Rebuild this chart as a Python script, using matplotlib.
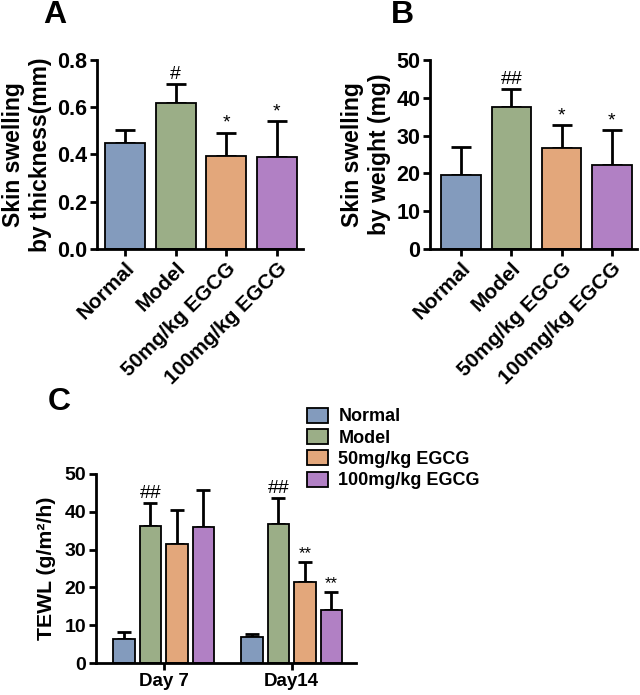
import matplotlib
matplotlib.use("Agg")
import matplotlib.pyplot as plt
import numpy as np
from matplotlib.patches import Patch

plt.rcParams['font.family'] = ['Liberation Sans', 'DejaVu Sans']
plt.rcParams['font.weight'] = 'bold'
plt.rcParams['axes.linewidth'] = 2

# ---- data ----
groups = ['Normal', 'Model', '50mg/kg EGCG', '100mg/kg EGCG']
colors = ['#839BBD', '#9BAE87', '#E3A77B', '#B180C4']

thick_mean = [0.45, 0.62, 0.393, 0.39]
thick_err = [0.055, 0.08, 0.10, 0.15]
thick_sig = ['', '#', '*', '*']

weight_mean = [19.6, 37.6, 26.8, 22.1]
weight_err = [7.4, 4.7, 5.9, 9.4]
weight_sig = ['', '##', '*', '*']

days = ['Day 7', 'Day14']
tewl_mean = {
    'Normal': [6.4, 6.8],
    'Model': [36.2, 36.8],
    '50mg/kg EGCG': [31.6, 21.5],
    '100mg/kg EGCG': [36.1, 14.0],
}
tewl_err = {
    'Normal': [1.9, 0.8],
    'Model': [6.1, 6.9],
    '50mg/kg EGCG': [8.9, 5.2],
    '100mg/kg EGCG': [9.7, 4.7],
}
tewl_sig = {
    'Normal': ['', ''],
    'Model': ['##', '##'],
    '50mg/kg EGCG': ['', '**'],
    '100mg/kg EGCG': ['', '**'],
}

fig = plt.figure(figsize=(6.4, 6.95), dpi=100)


def style_axes(ax, ysize):
    ax.spines['top'].set_visible(False)
    ax.spines['right'].set_visible(False)
    ax.tick_params(width=2, length=5, pad=2)
    ax.tick_params(axis='y', labelsize=ysize)
    for lab in ax.get_yticklabels():
        lab.set_fontweight('bold')


def bar_panel(ax, means, errs, sigs, ylim, yticks, ylabel, fmt):
    x = np.arange(len(groups))
    ax.bar(x, means, width=0.79, color=colors, edgecolor='black', linewidth=1.3, zorder=2)
    ax.errorbar(x, means, yerr=[np.zeros(len(errs)), errs], fmt='none', ecolor='black',
                elinewidth=2, capsize=7, capthick=2, zorder=1)
    for xi, m, e, s in zip(x, means, errs, sigs):
        if s:
            ax.text(xi, m + e + ylim[1] * 0.005, s, ha='center', va='bottom',
                    fontsize=14, fontweight='normal')
    ax.set_ylim(*ylim)
    ax.set_yticks(yticks)
    ax.set_yticklabels([fmt.format(v) for v in yticks])
    ax.set_xticks(x)
    ax.set_xticklabels(groups, rotation=45, ha='right', rotation_mode='anchor',
                       fontsize=15, fontweight='bold')
    ax.set_ylabel(ylabel, fontsize=16.5, fontweight='bold', labelpad=4)
    style_axes(ax, 15.5)


axA = fig.add_axes([0.1516, 0.6417, 0.3214, 0.272])
bar_panel(axA, thick_mean, thick_err, thick_sig, (0, 0.8), [0, 0.2, 0.4, 0.6, 0.8],
          'Skin swelling\nby thickness(mm)', '{:.1f}')
axA.set_xlim(-0.55, 3.51)

axB = fig.add_axes([0.672, 0.6417, 0.323, 0.272])
bar_panel(axB, weight_mean, weight_err, weight_sig, (0, 50), [0, 10, 20, 30, 40, 50],
          'Skin swelling\nby weight (mg)', '{:.0f}')
axB.set_xlim(-0.62, 3.5)

# ---- panel C ----
axC = fig.add_axes([0.15, 0.046, 0.406, 0.272])
xd = np.arange(len(days))
step = 0.207
for i, g in enumerate(groups):
    pos = xd + (i - 1.5) * step
    m = tewl_mean[g]
    e = tewl_err[g]
    axC.bar(pos, m, width=0.168, color=colors[i], edgecolor='black', linewidth=1.3,
            zorder=2, label=g)
    axC.errorbar(pos, m, yerr=[[0, 0], e], fmt='none', ecolor='black', elinewidth=2,
                 capsize=4.7, capthick=2, zorder=1)
    for p, mm, ee, s in zip(pos, m, e, tewl_sig[g]):
        if s:
            fs = 14 if s.startswith('#') else 12
            axC.text(p, mm + ee + 0.3, s, ha='center', va='bottom', fontsize=fs,
                     fontweight='normal')
axC.set_ylim(0, 50)
axC.set_yticks([0, 10, 20, 30, 40, 50])
axC.set_xlim(-0.529, 1.502)
axC.set_xticks(xd)
axC.set_xticklabels(days, fontsize=13.5, fontweight='bold')
axC.set_ylabel('TEWL (g/m²/h)', fontsize=15.3, fontweight='bold', labelpad=6)
style_axes(axC, 14)

handles = [Patch(facecolor=c, edgecolor='black', linewidth=1.3) for c in colors]
fig.legend(handles, groups, loc='upper left', bbox_to_anchor=(0.454, 0.437),
           frameon=False, handlelength=1.15, handleheight=0.9,
           handletextpad=0.6, labelspacing=0.2, prop={'weight': 'bold', 'size': 13})

# panel letters
fig.text(0.067, 0.967, 'A', fontsize=23, fontweight='bold', va='baseline', ha='left')
fig.text(0.61, 0.967, 'B', fontsize=23, fontweight='bold', va='baseline', ha='left')
fig.text(0.074, 0.41, 'C', fontsize=23, fontweight='bold', va='baseline', ha='left')

fig.savefig('out.png', dpi=100)
